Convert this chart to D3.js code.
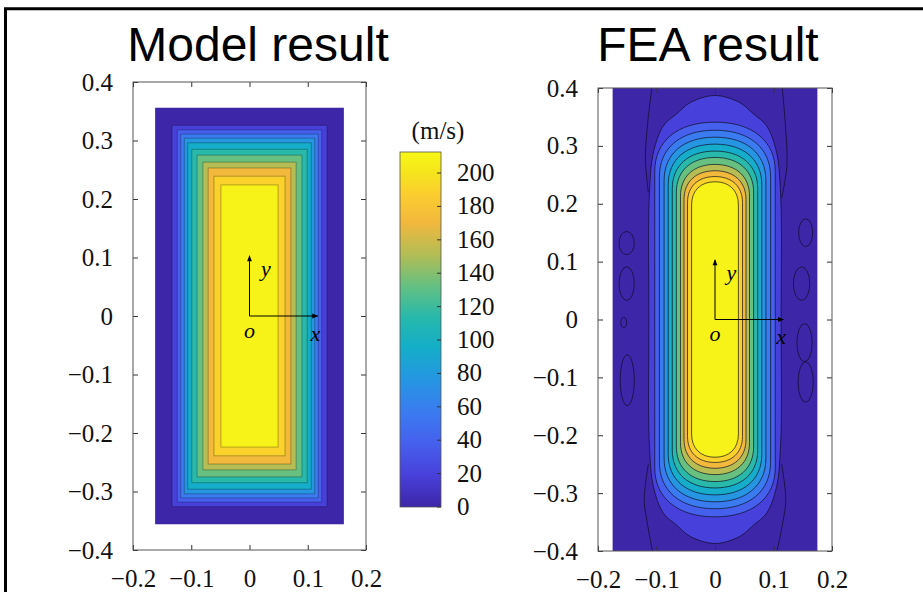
<!DOCTYPE html>
<html>
<head>
<meta charset="utf-8">
<script src="https://cdn.jsdelivr.net/npm/d3@7"></script>
<style>
body { margin: 0; background: #fff; }
svg { display: block; }
</style>
</head>
<body>
<div id="app"></div>
<script>
// contour levels in m/s (lower bound of each filled band), colour axis top
let levels = [0, 19, 38, 57, 76, 95, 114, 133, 152, 171, 190, 209]
let colorMax = 212.6
let colorbarTicks = [0, 20, 40, 60, 80, 100, 120, 140, 160, 180, 200]

let ticksX = [-0.2, -0.1, 0, 0.1, 0.2]
let ticksY = [-0.4, -0.3, -0.2, -0.1, 0, 0.1, 0.2, 0.3, 0.4]

// model result: each level is a rectangle (half width, half height)
let modelHalfW = [0.162, 0.133, 0.124, 0.118, 0.112, 0.106, 0.099, 0.090, 0.080, 0.071, 0.061, 0.049]
let modelHalfH = [0.356, 0.326, 0.318, 0.311, 0.304, 0.296, 0.285, 0.275, 0.263, 0.253, 0.239, 0.224]

// FEA result: level 0 fills the strip, level 1 is a bell, the rest are rounded slots
let feaStripHalfW = 0.175
let feaHalfW = [null, null, 0.103, 0.095, 0.087, 0.080, 0.073, 0.066, 0.059, 0.053, 0.047, 0.040]
let feaHalfH = [null, null, 0.341, 0.327, 0.315, 0.303, 0.291, 0.280, 0.268, 0.257, 0.247, 0.238]
let feaCapH = [null, null, 0.085, 0.080, 0.075, 0.070, 0.065, 0.060, 0.055, 0.050, 0.045, 0.040]
// upper half of the outer contour: [y, half width]
let feaBell = [[0, 0.113], [0.22, 0.112], [0.29, 0.105], [0.335, 0.088], [0.355, 0.066], [0.375, 0.042], [0.387, 0]]
// loose contour lines in the low band
let feaSideLines = [
  [[-0.108, 0.4], [-0.115, 0.34], [-0.119, 0.278], [-0.114, 0.22]],
  [[0.115, 0.4], [0.12, 0.34], [0.123, 0.267], [0.114, 0.21]],
  [[-0.107, -0.4], [-0.116, -0.35], [-0.121, -0.312], [-0.114, -0.25]],
  [[0.106, -0.4], [0.116, -0.35], [0.121, -0.312], [0.114, -0.25]]
]
// small closed loops near the edges: [cx, cy, rx, ry]
let feaLoops = [
  [-0.151, 0.132, 0.013, 0.02], [-0.151, 0.062, 0.013, 0.029], [-0.156, -0.005, 0.005, 0.009],
  [-0.150, -0.105, 0.012, 0.044], [0.155, 0.15, 0.012, 0.024], [0.148, 0.062, 0.014, 0.029],
  [0.153, -0.04, 0.013, 0.033], [0.155, -0.108, 0.013, 0.035]
]

// parula-like colormap
let cmapPos = [0, 0.09, 0.18, 0.27, 0.36, 0.45, 0.53, 0.62, 0.71, 0.80, 0.88, 0.94, 1]
let cmapCol = ['#3e26a8', '#4840da', '#4660ee', '#3a7cf0', '#2596e2', '#14aec8', '#25b8ad', '#62c083',
  '#b2bd55', '#f1b83e', '#fbcd2f', '#f5e41d', '#f8f814']
let parula = d3.scaleLinear().domain(cmapPos).range(cmapCol).interpolate(d3.interpolateRgb)
let color = v => parula(v / colorMax)

const serif = '"Liberation Serif", "Times New Roman", serif'

const svg = d3.select('#app').append('svg')
  .attr('width', 923)
  .attr('height', 592)

// frame
svg.append('path')
  .attr('d', 'M5.5,592V8.8H923')
  .attr('fill', 'none')
  .attr('stroke', '#000')
  .attr('stroke-width', 3)

let drawAxes = (g, x, y) => {
  g.append('g')
    .attr('transform', `translate(0,${y.range()[0]})`)
    .call(d3.axisBottom(x).tickValues(ticksX).tickSizeInner(-5).tickSizeOuter(0).tickPadding(19)
      .tickFormat(d => d === 0 ? '0' : d3.format('.1f')(d)))
  g.append('g')
    .attr('transform', `translate(0,${y.range()[1]})`)
    .call(d3.axisTop(x).tickValues(ticksX).tickSizeInner(-5).tickSizeOuter(0).tickFormat(''))
  g.append('g')
    .attr('transform', `translate(${x.range()[0]},0)`)
    .call(d3.axisLeft(y).tickValues(ticksY).tickSizeInner(-5).tickSizeOuter(0).tickPadding(20)
      .tickFormat(d => d === 0 ? '0' : d3.format('.1f')(d)))
  g.append('g')
    .attr('transform', `translate(${x.range()[1]},0)`)
    .call(d3.axisRight(y).tickValues(ticksY).tickSizeInner(-5).tickSizeOuter(0).tickFormat(''))
  g.selectAll('.domain').remove()
  g.selectAll('.tick line').attr('stroke', '#333')
  g.selectAll('.tick text')
    .attr('font-family', serif)
    .attr('font-size', 25)
    .attr('fill', '#111')
  g.append('rect')
    .attr('x', x.range()[0])
    .attr('y', y.range()[1])
    .attr('width', x.range()[1] - x.range()[0])
    .attr('height', y.range()[0] - y.range()[1])
    .attr('fill', 'none')
    .attr('stroke', '#555')
    .attr('stroke-width', 1)
}

let drawOrigin = (g, x, y, id) => {
  let defs = svg.append('defs')
  defs.append('marker')
    .attr('id', id)
    .attr('viewBox', '0 0 10 10')
    .attr('refX', 9).attr('refY', 5)
    .attr('markerWidth', 9).attr('markerHeight', 6)
    .attr('markerUnits', 'userSpaceOnUse')
    .attr('orient', 'auto')
    .append('path').attr('d', 'M0,1L10,5L0,9Z').attr('fill', '#000')
  g.append('line')
    .attr('x1', x(0)).attr('y1', y(0)).attr('x2', x(0)).attr('y2', y(0.103))
    .attr('stroke', '#000').attr('stroke-width', 1)
    .attr('marker-end', `url(#${id})`)
  g.append('line')
    .attr('x1', x(0)).attr('y1', y(0)).attr('x2', x(0.117)).attr('y2', y(0))
    .attr('stroke', '#000').attr('stroke-width', 1)
    .attr('marker-end', `url(#${id})`)
  let lab = [['y', 0.028, 0.082], ['o', 0.0, -0.025], ['x', 0.113, -0.03]]
  g.selectAll('text.orig').data(lab).enter().append('text')
    .attr('class', 'orig')
    .attr('x', d => x(d[1])).attr('y', d => y(d[2]))
    .attr('text-anchor', 'middle')
    .attr('dominant-baseline', 'central')
    .attr('font-family', serif)
    .attr('font-style', 'italic')
    .attr('font-size', 22)
    .text(d => d[0])
}

// ---- left panel: model result
let xL = d3.scaleLinear().domain([-0.2, 0.2]).range([133, 366])
let yL = d3.scaleLinear().domain([-0.4, 0.4]).range([550, 82])
let gL = svg.append('g')

gL.selectAll('rect.band')
  .data(levels)
  .enter()
  .append('rect')
  .attr('class', 'band')
  .attr('x', (d, i) => xL(-modelHalfW[i]))
  .attr('y', (d, i) => yL(modelHalfH[i]))
  .attr('width', (d, i) => xL(modelHalfW[i]) - xL(-modelHalfW[i]))
  .attr('height', (d, i) => yL(-modelHalfH[i]) - yL(modelHalfH[i]))
  .attr('fill', d => color(d))
  .attr('stroke', (d, i) => i === 0 ? 'none' : 'rgba(0,0,0,0.3)')
  .attr('stroke-width', 0.9)

drawAxes(gL, xL, yL)
drawOrigin(gL, xL, yL, 'arrL')

// ---- right panel: FEA result
let xR = d3.scaleLinear().domain([-0.2, 0.2]).range([598, 832])
let yR = d3.scaleLinear().domain([-0.4, 0.4]).range([551, 88])
let gR = svg.append('g')

gR.append('rect')
  .attr('x', xR(-feaStripHalfW))
  .attr('y', yR(0.4))
  .attr('width', xR(feaStripHalfW) - xR(-feaStripHalfW))
  .attr('height', yR(-0.4) - yR(0.4))
  .attr('fill', color(levels[0]))

let bellPts = feaBell.map(p => [p[1], p[0]])
  .concat(feaBell.slice(0, -1).reverse().map(p => [-p[1], p[0]]))
  .concat(feaBell.slice(1).map(p => [-p[1], -p[0]]))
  .concat(feaBell.slice(1, -1).reverse().map(p => [p[1], -p[0]]))

let contourStroke = 'rgba(10,10,30,0.75)'

gR.append('path')
  .attr('d', d3.line().x(d => xR(d[0])).y(d => yR(d[1])).curve(d3.curveCatmullRomClosed)(bellPts))
  .attr('fill', color(levels[1]))
  .attr('stroke', contourStroke)
  .attr('stroke-width', 0.9)

// rounded slot with squarish caps (cubic curves through the scales)
let slot = (hw, hh, cap) => {
  let s = hh - cap
  let k = 0.62
  let p = d3.path()
  p.moveTo(xR(-hw), yR(s))
  p.lineTo(xR(-hw), yR(-s))
  p.bezierCurveTo(xR(-hw), yR(-s - k * cap), xR(-k * hw), yR(-hh), xR(0), yR(-hh))
  p.bezierCurveTo(xR(k * hw), yR(-hh), xR(hw), yR(-s - k * cap), xR(hw), yR(-s))
  p.lineTo(xR(hw), yR(s))
  p.bezierCurveTo(xR(hw), yR(s + k * cap), xR(k * hw), yR(hh), xR(0), yR(hh))
  p.bezierCurveTo(xR(-k * hw), yR(hh), xR(-hw), yR(s + k * cap), xR(-hw), yR(s))
  p.closePath()
  return p.toString()
}

gR.selectAll('path.slot')
  .data(levels.slice(2))
  .enter()
  .append('path')
  .attr('class', 'slot')
  .attr('d', (d, i) => slot(feaHalfW[i + 2], feaHalfH[i + 2], feaCapH[i + 2]))
  .attr('fill', d => color(d))
  .attr('stroke', contourStroke)
  .attr('stroke-width', 0.9)

gR.selectAll('path.side')
  .data(feaSideLines)
  .enter()
  .append('path')
  .attr('class', 'side')
  .attr('d', d3.line().x(d => xR(d[0])).y(d => yR(d[1])).curve(d3.curveCatmullRom))
  .attr('fill', 'none')
  .attr('stroke', contourStroke)
  .attr('stroke-width', 0.9)

gR.selectAll('ellipse.loop')
  .data(feaLoops)
  .enter()
  .append('ellipse')
  .attr('class', 'loop')
  .attr('cx', d => xR(d[0]))
  .attr('cy', d => yR(d[1]))
  .attr('rx', d => xR(d[2]) - xR(0))
  .attr('ry', d => yR(0) - yR(d[3]))
  .attr('fill', 'none')
  .attr('stroke', contourStroke)
  .attr('stroke-width', 0.9)

drawAxes(gR, xR, yR)
drawOrigin(gR, xR, yR, 'arrR')

// ---- colorbar
let cb = d3.scaleLinear().domain([0, colorMax]).range([507, 152])
let grad = svg.append('defs').append('linearGradient')
  .attr('id', 'cbgrad')
  .attr('x1', 0).attr('y1', 1).attr('x2', 0).attr('y2', 0)
grad.selectAll('stop')
  .data(cmapPos)
  .enter()
  .append('stop')
  .attr('offset', d => d)
  .attr('stop-color', (d, i) => cmapCol[i])

svg.append('rect')
  .attr('x', 400)
  .attr('y', cb(colorMax))
  .attr('width', 41)
  .attr('height', cb(0) - cb(colorMax))
  .attr('fill', 'url(#cbgrad)')
  .attr('stroke', '#555')
  .attr('stroke-width', 0.8)

svg.selectAll('line.cbtick')
  .data(colorbarTicks)
  .enter()
  .append('line')
  .attr('class', 'cbtick')
  .attr('x1', 437).attr('x2', 441)
  .attr('y1', d => cb(d)).attr('y2', d => cb(d))
  .attr('stroke', '#333')

svg.selectAll('text.cblab')
  .data(colorbarTicks)
  .enter()
  .append('text')
  .attr('class', 'cblab')
  .attr('x', 457)
  .attr('y', d => cb(d))
  .attr('dy', '0.32em')
  .attr('font-family', serif)
  .attr('font-size', 25)
  .attr('fill', '#111')
  .text(d => d)

svg.append('text')
  .attr('x', 438)
  .attr('y', 131)
  .attr('dy', '0.32em')
  .attr('text-anchor', 'middle')
  .attr('font-family', serif)
  .attr('font-size', 25)
  .attr('fill', '#111')
  .text('(m/s)')

// ---- titles
svg.selectAll('text.title')
  .data([['Model result', 258], ['FEA result', 708]])
  .enter()
  .append('text')
  .attr('class', 'title')
  .attr('x', d => d[1])
  .attr('y', 61)
  .attr('text-anchor', 'middle')
  .attr('font-family', '"Liberation Sans", Arial, sans-serif')
  .attr('font-size', 48)
  .attr('fill', '#000')
  .text(d => d[0])
</script>
</body>
</html>
